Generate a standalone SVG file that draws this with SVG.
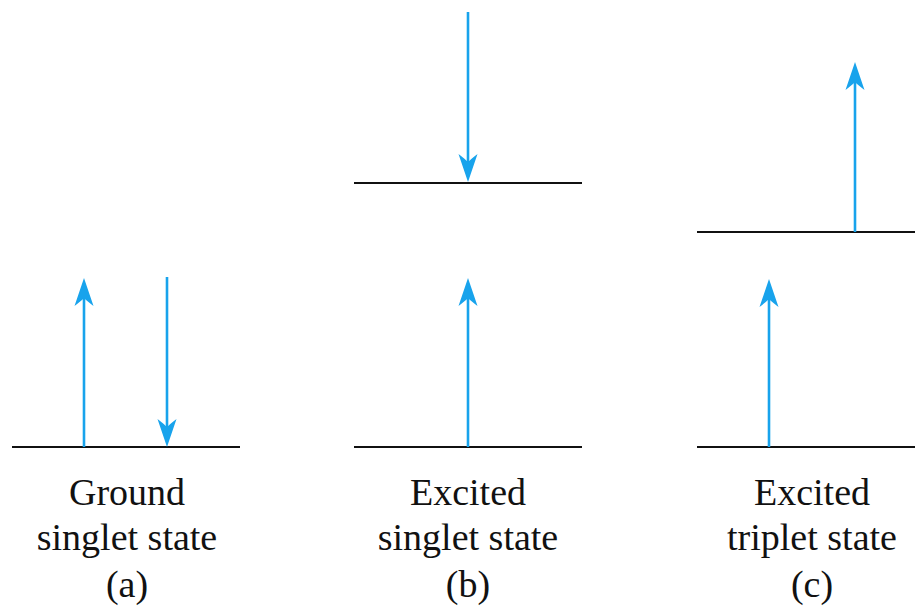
<svg xmlns="http://www.w3.org/2000/svg" width="915" height="611" viewBox="0 0 915 611">
<style>
.lvl{stroke:#111;stroke-width:2.2;fill:none}
.spin{stroke:#18a3ec;stroke-width:2.6;fill:none;marker-end:url(#head)}
.lbl{font-family:"Liberation Serif","Times New Roman",serif;font-size:38px;fill:#111;text-anchor:middle}
</style>
<defs>
<marker id="head" markerUnits="userSpaceOnUse" viewBox="-10 -10 32 20" refX="0" refY="0" markerWidth="32" markerHeight="20" orient="auto" overflow="visible">
<path d="M20,0 L-8,-9.5 Q-3,-3 0,0 Q-3,3 -8,9.5 Z" fill="#18a3ec"/>
</marker>
</defs>
<rect width="915" height="611" fill="#fff"/>
<g id="state-a">
<line class="lvl" x1="12" y1="447" x2="240" y2="447"/>
<text class="lbl" x="127" y="505">Ground</text>
<text class="lbl" x="127" y="550">singlet state</text>
<text class="lbl" x="127" y="597">(a)</text>
</g>
<g id="state-b">
<line class="lvl" x1="354" y1="183" x2="582" y2="183"/>
<line class="lvl" x1="354" y1="447" x2="582" y2="447"/>
<text class="lbl" x="468" y="505">Excited</text>
<text class="lbl" x="468" y="550">singlet state</text>
<text class="lbl" x="468" y="597">(b)</text>
</g>
<g id="state-c">
<line class="lvl" x1="697" y1="232" x2="915" y2="232"/>
<line class="lvl" x1="697" y1="447" x2="915" y2="447"/>
<text class="lbl" x="812" y="505">Excited</text>
<text class="lbl" x="812" y="550">triplet state</text>
<text class="lbl" x="812" y="597">(c)</text>
</g>
<g id="connectors">
<line class="spin" x1="84" y1="447" x2="84" y2="298"/>
<line class="spin" x1="167" y1="277" x2="167" y2="427"/>
<line class="spin" x1="468" y1="12" x2="468" y2="162"/>
<line class="spin" x1="468" y1="447" x2="468" y2="298"/>
<line class="spin" x1="855" y1="232" x2="855" y2="82"/>
<line class="spin" x1="769" y1="447" x2="769" y2="299"/>
</g>
</svg>
